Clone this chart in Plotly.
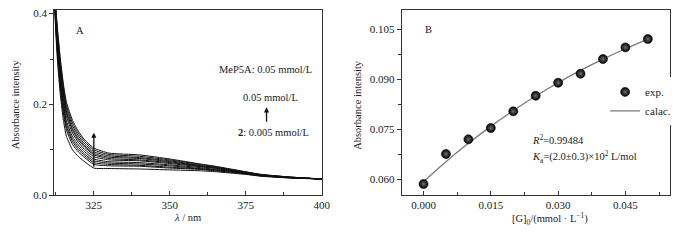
import plotly.graph_objects as go

# ---------------- Panel A data ----------------
wavelength = [312, 313, 314, 315, 316, 318, 320, 322, 325, 330, 340, 350, 360, 365, 370, 375, 380, 390, 400]
spec_00 = [0.420, 0.300, 0.220, 0.165, 0.130, 0.100, 0.085, 0.074, 0.060, 0.059, 0.058, 0.056, 0.054, 0.052, 0.049, 0.046, 0.042, 0.038, 0.036]
spec_01 = [0.427, 0.313, 0.234, 0.179, 0.144, 0.112, 0.095, 0.083, 0.068, 0.065, 0.064, 0.060, 0.057, 0.054, 0.051, 0.047, 0.043, 0.038, 0.036]
spec_02 = [0.431, 0.319, 0.242, 0.187, 0.150, 0.118, 0.100, 0.087, 0.072, 0.068, 0.066, 0.062, 0.058, 0.055, 0.051, 0.048, 0.043, 0.039, 0.036]
spec_03 = [0.434, 0.325, 0.249, 0.194, 0.157, 0.123, 0.105, 0.091, 0.076, 0.071, 0.069, 0.065, 0.059, 0.056, 0.052, 0.048, 0.043, 0.039, 0.036]
spec_04 = [0.438, 0.332, 0.256, 0.201, 0.164, 0.129, 0.110, 0.096, 0.080, 0.074, 0.072, 0.067, 0.061, 0.057, 0.053, 0.049, 0.044, 0.039, 0.036]
spec_05 = [0.443, 0.340, 0.266, 0.211, 0.173, 0.137, 0.116, 0.101, 0.085, 0.078, 0.076, 0.070, 0.063, 0.059, 0.054, 0.049, 0.044, 0.039, 0.036]
spec_06 = [0.446, 0.346, 0.273, 0.218, 0.180, 0.143, 0.121, 0.106, 0.089, 0.081, 0.078, 0.072, 0.064, 0.060, 0.055, 0.050, 0.045, 0.039, 0.036]
spec_07 = [0.449, 0.351, 0.278, 0.223, 0.185, 0.147, 0.125, 0.109, 0.092, 0.084, 0.081, 0.074, 0.065, 0.061, 0.056, 0.050, 0.045, 0.039, 0.036]
spec_08 = [0.453, 0.357, 0.286, 0.231, 0.192, 0.153, 0.130, 0.113, 0.096, 0.087, 0.083, 0.076, 0.066, 0.062, 0.056, 0.051, 0.045, 0.040, 0.036]
spec_09 = [0.456, 0.364, 0.293, 0.238, 0.198, 0.159, 0.135, 0.118, 0.100, 0.090, 0.086, 0.078, 0.068, 0.063, 0.057, 0.051, 0.046, 0.040, 0.036]
spec_10 = [0.460, 0.370, 0.300, 0.245, 0.205, 0.165, 0.140, 0.122, 0.104, 0.093, 0.089, 0.080, 0.069, 0.064, 0.058, 0.052, 0.046, 0.040, 0.036]
spectra = [spec_00, spec_01, spec_02, spec_03, spec_04, spec_05, spec_06, spec_07, spec_08, spec_09, spec_10]

a_xticks = [325, 350, 375, 400]
a_yticks = [0.0, 0.2, 0.4]

# ---------------- Panel B data ----------------
guest_conc = [0.000, 0.005, 0.010, 0.015, 0.020, 0.025, 0.030, 0.035, 0.040, 0.045, 0.050]
abs_exp = [0.0585, 0.0675, 0.0719, 0.0753, 0.0803, 0.0850, 0.0889, 0.0916, 0.0960, 0.0995, 0.1020]
abs_calc = [0.0592, 0.0652, 0.0707, 0.0758, 0.0805, 0.0849, 0.0889, 0.0926, 0.0960, 0.0991, 0.1020]
b_xticks = [0.000, 0.015, 0.030, 0.045]
b_yticks = [0.060, 0.075, 0.090, 0.105]

FONT = "Liberation Serif"
INK = "#1a1a1a"
TXT = 10.5

fig = go.Figure()

for s in spectra:
    fig.add_trace(go.Scatter(x=wavelength, y=s, mode="lines", line=dict(color="#111111", width=1, shape="spline", smoothing=0.5),
                             showlegend=False, xaxis="x", yaxis="y", hoverinfo="skip"))

fig.add_trace(go.Scatter(x=guest_conc, y=abs_calc, mode="lines", name="calac.", legendrank=2,
                         line=dict(color="#7a7a7a", width=1.3, shape="spline"), xaxis="x2", yaxis="y2"))
fig.add_trace(go.Scatter(x=guest_conc, y=abs_exp, mode="markers", name="exp.", legendrank=1,
                         marker=dict(size=9, color="#000000", gradient=dict(type="radial", color="#6e6e6e"),
                                     line=dict(width=0.6, color="#000000")),
                         xaxis="x2", yaxis="y2"))

axis_common = dict(showline=True, linecolor="#333333", linewidth=1.2, mirror=True, showgrid=False, zeroline=False,
                   tickfont=dict(family=FONT, size=11, color=INK), ticklen=4, tickcolor="#333333")

fig.update_layout(
    width=700, height=240,
    margin=dict(l=0, r=0, t=0, b=0),
    paper_bgcolor="white", plot_bgcolor="white",
    font=dict(family=FONT, size=11, color=INK),
    xaxis=dict(domain=[55/700, 326/700], range=[312, 400], tickvals=a_xticks, ticktext=[str(v) for v in a_xticks],
               ticks="inside", ticklabelstandoff=-1,
               minor=dict(dtick=12.5, tick0=325, ticks="inside", ticklen=3, tickcolor="#333333"),
               anchor="y", **axis_common),
    yaxis=dict(domain=[1 - 200/240, 1 - 8/240], range=[0, 0.4085], tickvals=a_yticks, ticktext=["%.1f" % v for v in a_yticks],
               ticks="outside", minor=dict(dtick=0.1, tick0=0, ticks="outside", ticklen=3, tickcolor="#333333"),
               anchor="x", **axis_common),
    xaxis2=dict(domain=[407/700, 679/700], range=[-0.00485, 0.055], tickvals=b_xticks, ticktext=["%.3f" % v for v in b_xticks],
                ticks="inside", ticklabelstandoff=-1,
                minor=dict(dtick=0.0075, tick0=0, ticks="inside", ticklen=3, tickcolor="#333333"),
                anchor="y2", **axis_common),
    yaxis2=dict(domain=[1 - 200/240, 1 - 8/240], range=[0.0551, 0.1108], tickvals=b_yticks, ticktext=["%.3f" % v for v in b_yticks],
                ticks="outside", minor=dict(dtick=0.0075, tick0=0.060, ticks="outside", ticklen=3, tickcolor="#333333"),
                anchor="x2", **axis_common),
    legend=dict(x=613/700, y=1 - 78/240, xanchor="left", yanchor="top", bgcolor="white",
                font=dict(family=FONT, size=11, color=INK), tracegroupgap=0, itemwidth=30),
    showlegend=True,
)

def px_ann(text, x, y, xanchor="left", size=TXT, angle=0):
    fig.add_annotation(text=text, x=x/700, y=1 - y/240, xref="paper", yref="paper", showarrow=False,
                       xanchor=xanchor, yanchor="middle", textangle=angle, borderpad=0,
                       font=dict(family=FONT, size=size, color=INK))

# Panel A texts
px_ann("A", 76, 29)
px_ann("MeP5A: 0.05 mmol/L", 221, 70)
px_ann("0.05 mmol/L", 245, 99)
px_ann("<b>2</b>: 0.005 mmol/L", 240, 135)
px_ann("Absorbance intensity", 16, 106, xanchor="center", angle=-90)
px_ann("<i>λ</i> / nm", 190, 223, xanchor="center")

# small arrow near the concentration labels of A
fig.add_annotation(x=270/700, y=1 - 109/240, xref="paper", yref="paper", ax=0, ay=16, axref="pixel", ayref="pixel",
                   text="", showarrow=True, arrowhead=2, arrowsize=0.8, arrowwidth=1.3, arrowcolor="#111111")

# big arrow inside A data area
fig.add_annotation(x=325, y=0.138, xref="x", yref="y", ax=325, ay=0.0596, axref="x", ayref="y",
                   text="", showarrow=True, arrowhead=2, arrowsize=0.8, arrowwidth=1.3, arrowcolor="#111111")

# Panel B texts
px_ann("B", 430, 28)
px_ann("<i>R</i><sup>2</sup>=0.99484", 538, 142)
px_ann("<i>K</i><sub>a</sub>=(2.0±0.3)×10<sup>2</sup> L/mol", 538, 160)
px_ann("Absorbance intensity", 362, 106, xanchor="center", angle=-90)
px_ann("[G]<sub>0</sub>/(mmol · L<sup>−1</sup>)", 557, 224, xanchor="center")

fig.write_html("out.html", config={"displayModeBar": False},
               post_script="document.body.style.margin='0px';")
